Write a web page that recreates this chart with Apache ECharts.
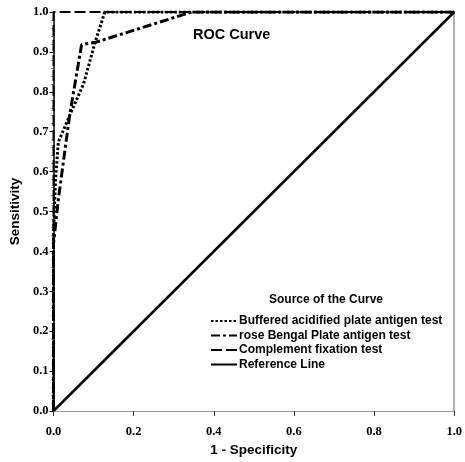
<!DOCTYPE html>
<html>
<head>
<meta charset="utf-8">
<script src="https://cdn.jsdelivr.net/npm/echarts@6/dist/echarts.min.js"></script>
<style>
  html, body { margin: 0; padding: 0; background: #fff; }
  #chart { width: 465px; height: 462px; }
</style>
</head>
<body>
<div id="chart"></div>
<script>
// ROC 曲线数据 (1 - 特异度, 灵敏度)
const bufferedX = [0, 0, 0.005, 0.012, 0.04, 0.075, 0.104, 0.128, 1];
const bufferedY = [0, 0.45, 0.58, 0.674, 0.74, 0.82, 0.925, 1, 1];

const roseX = [0, 0, 0.012, 0.04, 0.07, 0.108, 0.345, 1];
const roseY = [0, 0.42, 0.53, 0.74, 0.918, 0.925, 1, 1];

const complementX = [0, 0, 1];
const complementY = [0, 1, 1];

const referenceX = [0, 1];
const referenceY = [0, 1];

const seriesNames = [
    'Buffered acidified plate antigen test',
    'rose Bengal Plate antigen test',
    'Complement fixation test',
    'Reference Line'
];

function pairs(xs, ys) {
    return xs.map((x, i) => [x, ys[i]]);
}

document.addEventListener('DOMContentLoaded', function() {
    const chart = echarts.init(document.getElementById('chart'));
    const font = 'Liberation Sans, Arial, sans-serif';
    const tickFont = { color: '#000', fontWeight: 'bold', fontSize: 12.5, fontFamily: 'Liberation Serif, Times New Roman, serif' };

    const option = {
        animation: false,
        backgroundColor: '#fff',
        title: [
            { text: 'ROC Curve', left: 188, top: 22,
              textStyle: { fontSize: 14.5, fontWeight: 'bold', fontFamily: font, color: '#000' } },
            { text: 'Source of the Curve', left: 264, top: 289,
              textStyle: { fontSize: 12, fontWeight: 'bold', fontFamily: font, color: '#000' } }
        ],
        grid: { left: 53, right: 7, top: 12, bottom: 48 },
        legend: {
            orient: 'vertical', left: 205, top: 310,
            itemWidth: 26, itemHeight: 12, itemGap: 2.5,
            data: seriesNames,
            itemStyle: { opacity: 0 },
            textStyle: { fontSize: 12, fontWeight: 'bold', fontFamily: font, color: '#000', padding: [0, 0, 0, -3] }
        },
        xAxis: {
            type: 'value', min: 0, max: 1, interval: 0.2,
            name: '1 - Specificity', nameLocation: 'middle', nameGap: 32,
            nameTextStyle: { fontSize: 13.5, fontWeight: 'bold', fontFamily: font, color: '#000' },
            axisLine: { lineStyle: { color: '#999', width: 1 } },
            axisTick: { show: true, length: 5, lineStyle: { color: '#333' } },
            axisLabel: Object.assign({ formatter: v => v.toFixed(1), margin: 14 }, tickFont),
            splitLine: { show: false }
        },
        yAxis: [{
            type: 'value', min: 0, max: 1, interval: 0.1,
            name: 'Sensitivity', nameLocation: 'middle', nameGap: 30,
            nameTextStyle: { fontSize: 13.5, fontWeight: 'bold', fontFamily: font, color: '#000' },
            axisLine: { lineStyle: { color: '#000', width: 1.5 } },
            axisTick: { show: true, length: 4, lineStyle: { color: '#000' } },
            minorTick: { show: true, splitNumber: 5, length: 2, lineStyle: { color: '#555' } },
            axisLabel: Object.assign({ formatter: v => v.toFixed(1), margin: 5 }, tickFont),
            splitLine: { show: false }
        }, {
            type: 'value', min: 0, max: 1, position: 'right',
            axisLine: { show: true, lineStyle: { color: '#999', width: 1.5 } },
            axisTick: { show: false }, axisLabel: { show: false }, splitLine: { show: false }
        }],
        series: [
            { name: seriesNames[0], type: 'line', symbol: 'none', data: pairs(bufferedX, bufferedY),
              lineStyle: { color: '#000', width: 3, type: [2.5, 2] }, itemStyle: { color: '#000' }, z: 4 },
            { name: seriesNames[1], type: 'line', symbol: 'none', data: pairs(roseX, roseY),
              lineStyle: { color: '#000', width: 3, type: [9, 3, 3, 3] }, itemStyle: { color: '#000' }, z: 3 },
            { name: seriesNames[2], type: 'line', symbol: 'none', data: pairs(complementX, complementY),
              lineStyle: { color: '#000', width: 2, type: [11, 4] }, itemStyle: { color: '#000' }, z: 2 },
            { name: seriesNames[3], type: 'line', symbol: 'none', data: pairs(referenceX, referenceY),
              lineStyle: { color: '#000', width: 2.5, type: 'solid' }, itemStyle: { color: '#000' }, z: 1 }
        ]
    };
    chart.setOption(option);
});
</script>
</body>
</html>
